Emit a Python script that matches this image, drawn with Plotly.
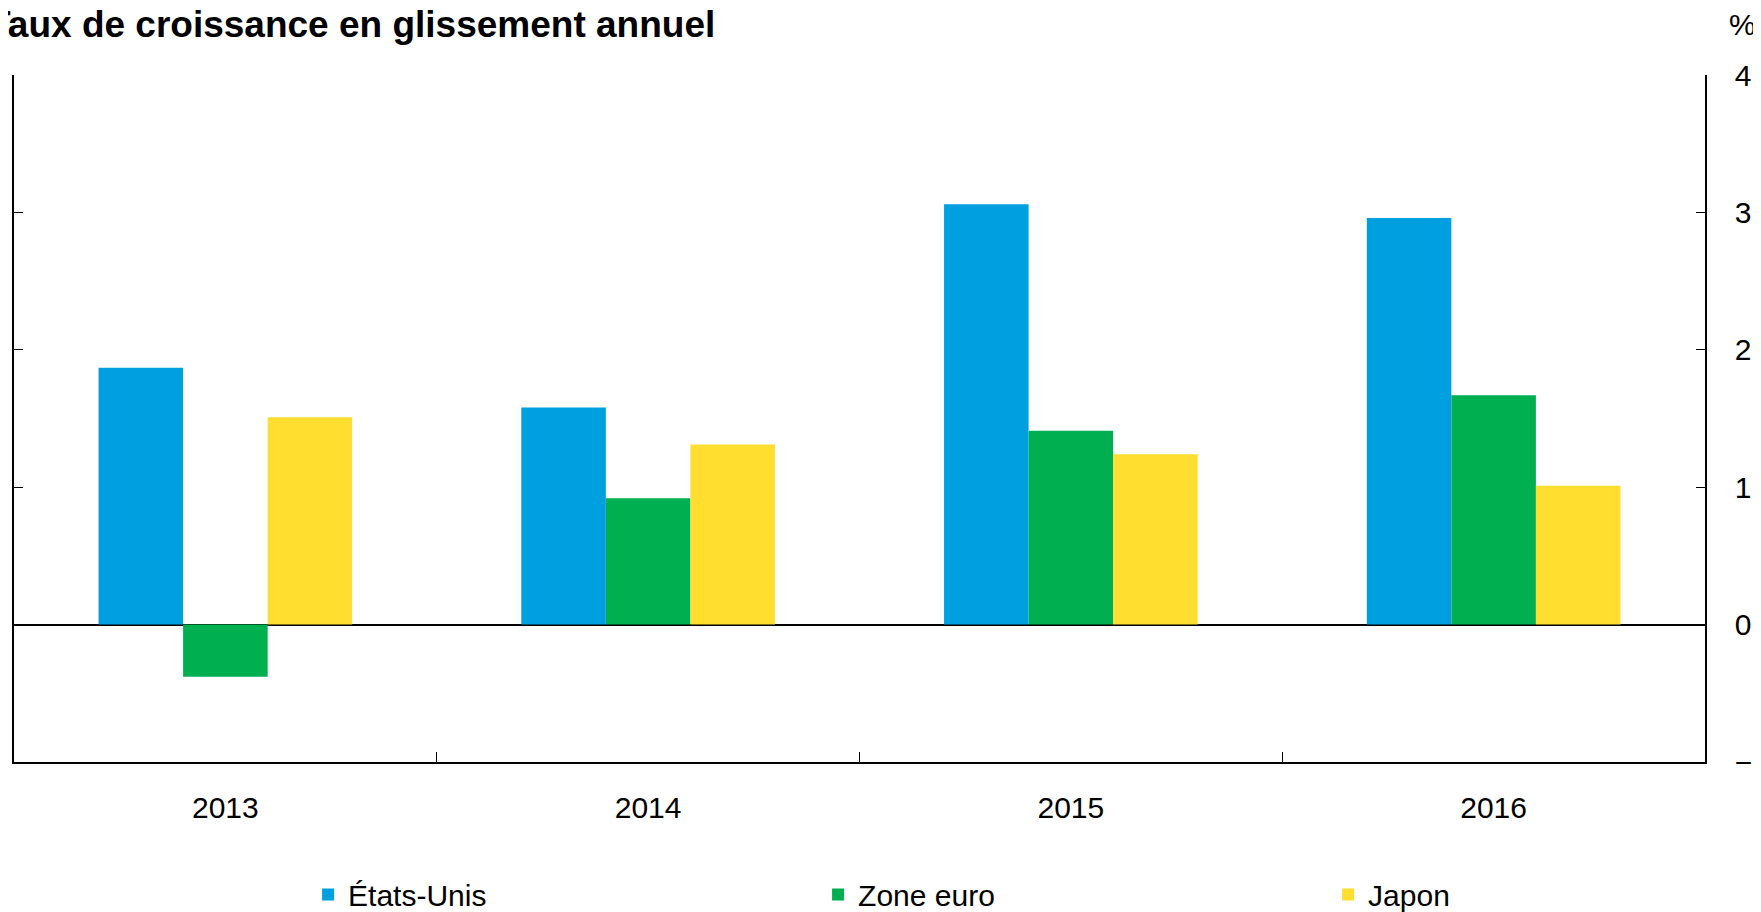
import plotly.graph_objects as go

years = ['2013', '2014', '2015', '2016']
etats_unis = [1.87, 1.58, 3.06, 2.96]
zone_euro = [-0.38, 0.92, 1.41, 1.67]
japon = [1.51, 1.31, 1.24, 1.01]

font = 'Liberation Sans, Arial, sans-serif'

fig = go.Figure()
fig.add_trace(go.Bar(x=years, y=etats_unis, name='États-Unis', marker_color='#00A0E0',
                     marker_line_width=0, legend='legend'))
fig.add_trace(go.Bar(x=years, y=zone_euro, name='Zone euro', marker_color='#00B050',
                     marker_line_width=0, legend='legend2'))
fig.add_trace(go.Bar(x=years, y=japon, name='Japon', marker_color='#FFDE2F',
                     marker_line_width=0, legend='legend3'))

leg = dict(orientation='h', xanchor='left', y=-0.193, yanchor='middle', font=dict(size=30),
           bgcolor='rgba(0,0,0,0)')

# page body has an 8px margin, so the figure is a little smaller than the window
fig.update_layout(
    width=1753, height=904,
    margin=dict(l=6, r=56, t=67, b=150, autoexpand=False),
    plot_bgcolor='white', paper_bgcolor='white',
    barmode='group', bargap=0.4, bargroupgap=0,
    font=dict(family=font, size=30, color='black'),
    showlegend=True,
    legend=dict(leg, x=0.1739),
    legend2=dict(leg, x=0.4755),
    legend3=dict(leg, x=0.7771),
)
fig.update_xaxes(showline=True, linecolor='black', linewidth=2, ticks='inside', ticklen=10,
                 tickcolor='black', tickson='boundaries', showgrid=False, ticklabelstandoff=18)
fig.update_yaxes(range=[-1, 4], dtick=1, side='right', showline=True, linecolor='black',
                 linewidth=1.5, mirror='ticks', ticks='inside', ticklen=9, tickcolor='black',
                 showgrid=False, zeroline=True, zerolinecolor='black', zerolinewidth=1.5,
                 ticklabelstandoff=22)

fig.add_annotation(text='<b>Taux de croissance en glissement annuel</b>', xref='paper', yref='paper',
                   x=-28 / 1691, y=1.073, xanchor='left', yanchor='middle', showarrow=False,
                   font=dict(size=37))
fig.add_annotation(text='%', xref='paper', yref='paper', x=1.013, y=1.073,
                   xanchor='left', yanchor='middle', showarrow=False, font=dict(size=30))

fig.write_html('out.html')
